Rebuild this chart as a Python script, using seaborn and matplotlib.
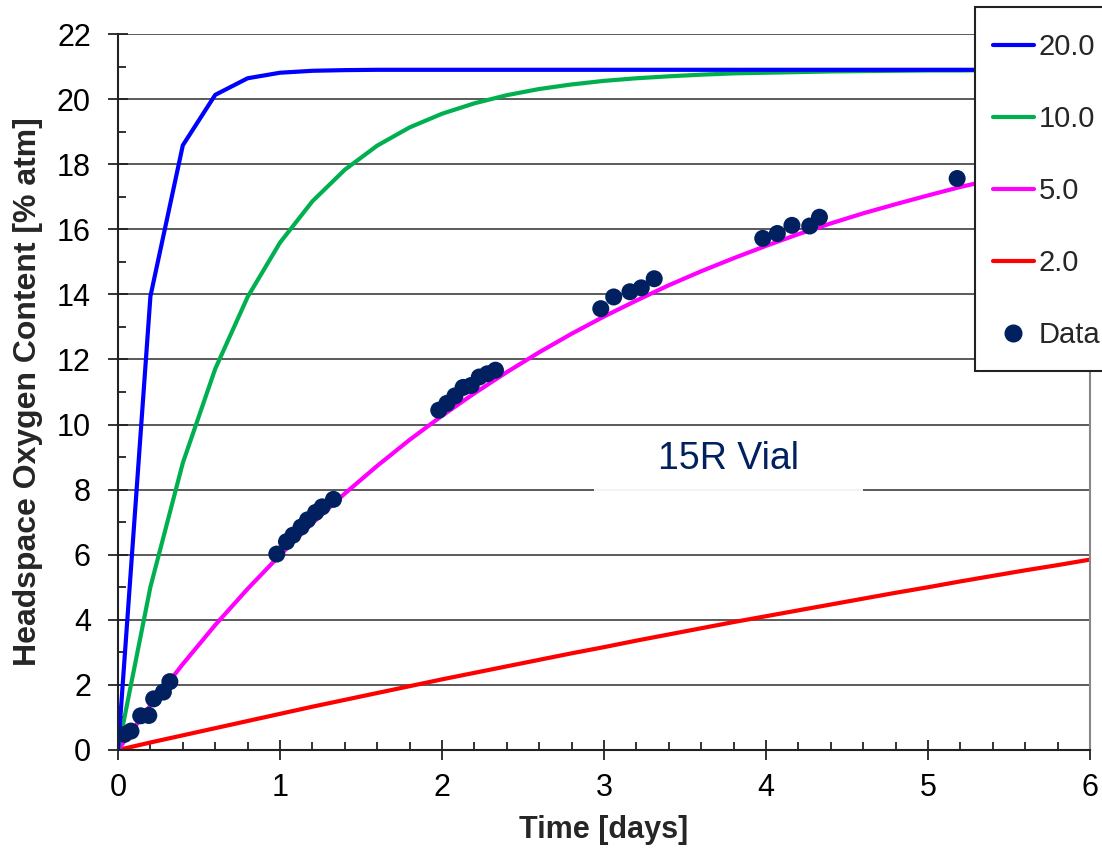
import numpy as np
import pandas as pd
import matplotlib
matplotlib.use("Agg")
import matplotlib.pyplot as plt
from matplotlib.ticker import MultipleLocator
from matplotlib.lines import Line2D
from matplotlib.patches import Rectangle
import seaborn as sns

# Model time grid (days)
time_days = [0.0, 0.2, 0.4, 0.6, 0.8, 1.0, 1.2, 1.4, 1.6, 1.8, 2.0, 2.2, 2.4, 2.6, 2.8,
             3.0, 3.2, 3.4, 3.6, 3.8, 4.0, 4.2, 4.4, 4.6, 4.8, 5.0, 5.2, 5.4, 5.6, 5.8, 6.0]

# Headspace O2 (% atm) for each permeation setting
o2_20 = [0.0, 13.94, 18.58, 20.13, 20.64, 20.81, 20.87, 20.89, 20.90, 20.90, 20.90,
         20.90, 20.90, 20.90, 20.90, 20.90, 20.90, 20.90, 20.90, 20.90, 20.90, 20.90,
         20.90, 20.90, 20.90, 20.90, 20.90, 20.90, 20.90, 20.90, 20.90]
o2_10 = [0.0, 5.01, 8.82, 11.71, 13.92, 15.59, 16.86, 17.83, 18.57, 19.13, 19.55,
         19.87, 20.12, 20.31, 20.45, 20.56, 20.64, 20.70, 20.75, 20.79, 20.81, 20.83,
         20.85, 20.86, 20.87, 20.88, 20.88, 20.89, 20.89, 20.89, 20.89]
o2_5 = [0.0, 1.37, 2.64, 3.84, 4.95, 5.99, 6.97, 7.88, 8.73, 9.53, 10.27, 10.96,
        11.61, 12.22, 12.79, 13.32, 13.81, 14.28, 14.71, 15.11, 15.49, 15.85, 16.18,
        16.49, 16.77, 17.04, 17.30, 17.53, 17.75, 17.96, 18.15]
o2_2 = [0.0, 0.23, 0.45, 0.67, 0.89, 1.11, 1.33, 1.54, 1.75, 1.96, 2.17, 2.37, 2.57,
        2.77, 2.97, 3.16, 3.36, 3.55, 3.74, 3.93, 4.11, 4.29, 4.47, 4.65, 4.83, 5.00,
        5.18, 5.35, 5.52, 5.68, 5.85]

# Measured headspace oxygen
data_t = [0.04, 0.08, 0.14, 0.19, 0.22, 0.28, 0.32,
          0.98, 1.04, 1.08, 1.13, 1.17, 1.22, 1.26, 1.33,
          1.98, 2.03, 2.08, 2.13, 2.18, 2.23, 2.28, 2.33,
          2.98, 3.06, 3.16, 3.23, 3.31,
          3.98, 4.07, 4.16, 4.27, 4.33,
          5.18]
data_o2 = [0.48, 0.58, 1.05, 1.06, 1.57, 1.78, 2.10,
           6.02, 6.40, 6.60, 6.85, 7.07, 7.30, 7.47, 7.70,
           10.44, 10.65, 10.88, 11.14, 11.20, 11.46, 11.56, 11.67,
           13.56, 13.92, 14.08, 14.20, 14.48,
           15.72, 15.87, 16.12, 16.10, 16.37,
           17.56]

series_labels = ["20.0", "10.0", "5.0", "2.0"]
series_values = [o2_20, o2_10, o2_5, o2_2]
series_colors = ["#0000ff", "#00b050", "#ff00ff", "#ff0000"]
data_color = "#002060"

sns.set_theme(style="white")
plt.rcParams["font.family"] = ["Liberation Sans", "DejaVu Sans"]

fig = plt.figure(figsize=(11.02, 8.48), dpi=100)
ax = fig.add_axes([0.1071, 0.1156, 0.8820, 0.8443])

# horizontal grid behind everything
for yv in range(0, 23, 2):
    ax.axhline(yv, color="#5a5a5a", lw=1.4, zorder=0.5)

# curves, drawn so the fastest sits on top
for lab, vals, col in reversed(list(zip(series_labels, series_values, series_colors))):
    df = pd.DataFrame({"t": time_days, "o2": vals})
    sns.lineplot(data=df, x="t", y="o2", ax=ax, color=col, lw=3.0,
                 estimator=None, sort=False, zorder=2, legend=False)

dfd = pd.DataFrame({"t": data_t, "o2": data_o2})
sns.scatterplot(data=dfd, x="t", y="o2", ax=ax, color=data_color, s=150,
                edgecolor="none", zorder=3, legend=False)

# label box
ax.add_patch(Rectangle((2.94, 7.88), 1.66, 2.0, facecolor="white", alpha=0.93,
                       edgecolor="none", zorder=1))
ax.text(3.77, 8.95, "15R Vial", color=data_color, fontsize=27,
        ha="center", va="center", zorder=4)

ax.set_xlim(0, 6)
ax.set_ylim(0, 22)
ax.xaxis.set_major_locator(MultipleLocator(1))
ax.xaxis.set_minor_locator(MultipleLocator(0.2))
ax.yaxis.set_major_locator(MultipleLocator(2))
ax.yaxis.set_minor_locator(MultipleLocator(1))

ax.tick_params(axis="both", which="major", direction="inout", length=15, width=1.3,
               color="#222222", labelsize=22, labelcolor="black")
ax.tick_params(axis="x", which="major", pad=9)
ax.tick_params(axis="y", which="major", pad=12)
ax.tick_params(axis="both", which="minor", direction="in", length=5.5, width=1.3,
               color="#222222")
ax.tick_params(axis="x", which="both", bottom=True)
ax.tick_params(axis="y", which="both", left=True)

ax.set_xlabel("Time [days]", fontsize=22, fontweight="bold", labelpad=9)
ax.set_ylabel("Headspace Oxygen Content [% atm]", fontsize=23, fontweight="bold",
              labelpad=10)

for side in ["left", "bottom"]:
    ax.spines[side].set_color("#222222")
    ax.spines[side].set_linewidth(1.5)
ax.spines["top"].set_visible(False)
ax.spines["right"].set_color("#888888")
ax.spines["right"].set_linewidth(1.5)
ax.set_facecolor("white")

# legend panel that runs off the right edge of the figure
fig.patches.append(Rectangle((0.8848, 0.5625), 0.2, 0.4292, transform=fig.transFigure,
                             facecolor="white", edgecolor="#222222", linewidth=1.5,
                             zorder=4, figure=fig))

handles = [Line2D([0], [0], color=c, lw=3.0) for c in series_colors]
handles.append(Line2D([0], [0], marker="o", color="none", markerfacecolor=data_color,
                      markeredgecolor=data_color, markersize=12))
labels = series_labels + ["Data"]
leg = fig.legend(handles, labels, loc="upper left", bbox_to_anchor=(0.9011, 0.9611),
                 borderaxespad=0, borderpad=0, fontsize=21, frameon=False,
                 labelspacing=1.51, handlelength=1.4, handletextpad=0.16)
leg.set_zorder(5)

fig.savefig("out.png", dpi=100)
